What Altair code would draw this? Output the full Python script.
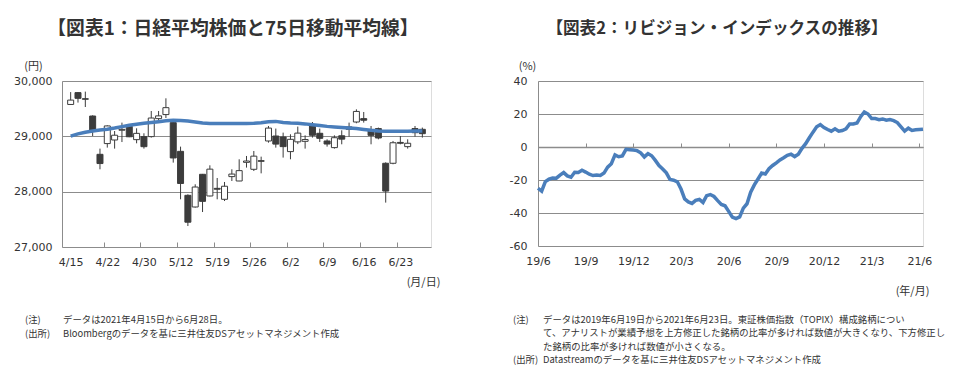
import altair as alt
import numpy as np
import pandas as pd

# ---------------- text ----------------
TITLE_L = "【図表1：日経平均株価と75日移動平均線】"
TITLE_R = "【図表2：リビジョン・インデックスの推移】"
UNIT_Y_L = "(円)"
UNIT_X_L = "(月/日)"
UNIT_Y_R = "(%)"
UNIT_X_R = "(年/月)"
NOTE_HEAD_L = ["(注)", "(出所)"]
NOTE_BODY_L = ["データは2021年4月15日から6月28日。",
               "Bloombergのデータを基に三井住友DSアセットマネジメント作成"]
NOTE_HEAD_R = ["(注)", "", "", "(出所)"]
NOTE_BODY_R = ["データは2019年6月19日から2021年6月23日。東証株価指数（TOPIX）構成銘柄につい",
               "て、アナリストが業績予想を上方修正した銘柄の比率が多ければ数値が大きくなり、下方修正し",
               "た銘柄の比率が多ければ数値が小さくなる。",
               "Datastreamのデータを基に三井住友DSアセットマネジメント作成"]

# ---------------- left chart data (Nikkei 225, daily) ----------------
DATES_L = ["4/15", "4/16", "4/19", "4/20", "4/21", "4/22", "4/23", "4/26", "4/27", "4/28", "4/30",
           "5/6", "5/7", "5/10", "5/11", "5/12", "5/13", "5/14", "5/17", "5/18", "5/19", "5/20", "5/21",
           "5/24", "5/25", "5/26", "5/27", "5/28", "5/31",
           "6/1", "6/2", "6/3", "6/4", "6/7", "6/8", "6/9", "6/10", "6/11", "6/14", "6/15", "6/16",
           "6/17", "6/18", "6/21", "6/22", "6/23", "6/24", "6/25", "6/28"]
OPEN = [29576, 29790, 29680, 29367, 28675, 28869, 28934, 29110, 29180, 28940, 28995,
        28995, 29320, 29393, 29248, 28729, 27934, 27723, 28314, 27922, 28060, 27862, 28272,
        28193, 28530, 28404, 28560, 28916, 29006,
        28988, 28724, 28900, 28910, 29187, 29055, 28916, 28796, 29010, 29127, 29259, 29320,
        29096, 29140, 28513, 28513, 28890, 28814, 29140, 29127]
HIGH = [29800, 29800, 29808, 29380, 28778, 29199, 29096, 29248, 29210, 29145, 29055,
        29458, 29458, 29687, 29277, 28814, 27952, 28133, 28320, 28476, 28247, 28175, 28404,
        28585, 28645, 28735, 28633, 29187, 29140,
        29067, 29037, 29176, 29018, 29259, 29140, 28946, 29018, 29109, 29248, 29488, 29440,
        29187, 29158, 28530, 28916, 29006, 28946, 29187, 29158]
LOW = [29570, 29610, 29530, 29006, 28404, 28796, 28778, 28897, 28985, 28874, 28778,
       28977, 29277, 29331, 28525, 27862, 27379, 27712, 27632, 27915, 27862, 27831, 28193,
       28190, 28435, 28373, 28331, 28886, 28796,
       28616, 28585, 28860, 28778, 28977, 28898, 28814, 28778, 28856, 28995, 29236, 29248,
       28856, 28946, 27802, 28495, 28856, 28778, 28995, 28977]
CLOSE = [29655, 29687, 29670, 29100, 28508, 29188, 29020, 29126, 28992, 29054, 28813,
         29331, 29370, 29518, 28609, 28148, 27448, 28084, 27825, 28407, 28044, 28098, 28318,
         28380, 28554, 28642, 28549, 29149, 28860,
         28814, 28946, 29058, 28942, 29019, 28964, 28861, 28975, 28949, 29170, 29450, 29291,
         29018, 28970, 28011, 28884, 28875, 28875, 29066, 29048]
MA75 = [29005, 29045, 29075, 29095, 29115, 29130, 29150, 29175, 29200, 29220, 29235,
        29250, 29265, 29280, 29290, 29285, 29275, 29260, 29240, 29232, 29230, 29230, 29230,
        29230, 29230, 29235, 29245, 29265, 29270,
        29250, 29240, 29235, 29225, 29210, 29195, 29180, 29170, 29160, 29150, 29140, 29125,
        29110, 29098, 29092, 29090, 29090, 29092, 29095, 29095]
X_LABELS_L = ["4/15", "4/22", "4/30", "5/12", "5/19", "5/26", "6/2", "6/9", "6/16", "6/23"]
Y_TICKS_L = [27000, 28000, 29000, 30000]

# ---------------- right chart data (revision index, weekly) ----------------
START_R = "2019-06-19"
REV = [-25.0, -26.8, -21.0, -19.5, -18.8, -18.9, -17.0, -15.5, -17.5, -18.3,
       -15.3, -15.5, -14.1, -15.2, -16.5, -17.3, -17.0, -17.3, -15.8, -12.2,
       -10.1, -4.8, -5.9, -5.4, -1.4, -1.6, -1.8, -2.2, -3.5, -6.0,
       -4.0, -5.3, -8.1, -11.2, -13.3, -15.7, -19.7, -20.1, -21.1, -25.5,
       -31.5, -33.3, -34.2, -32.3, -31.8, -33.6, -29.5, -28.8, -30.0, -32.5,
       -34.8, -35.6, -39.0, -42.5, -43.4, -42.4, -37.0, -34.4, -27.4, -23.0,
       -19.4, -15.8, -16.4, -13.2, -11.2, -9.6, -7.8, -6.5, -5.0, -4.4,
       -5.8, -4.4, -0.8, 2.0, 5.6, 9.0, 12.2, 13.6, 11.8, 10.6,
       9.6, 11.0, 9.6, 10.0, 11.0, 14.0, 14.0, 14.5, 18.4, 21.2,
       20.0, 17.2, 17.2, 16.6, 17.0, 16.2, 16.6, 16.0, 14.8, 12.2,
       9.6, 11.4, 10.0, 10.4, 10.6, 10.8]
X_LABELS_R = ["19/6", "19/9", "19/12", "20/3", "20/6", "20/9", "20/12", "21/3", "21/6"]
X_TICKS_R = [0, 13, 26, 39, 52, 65, 78, 91, 104]
Y_TICKS_R = [-60, -40, -20, 0, 20, 40]

# ---------------- style ----------------
JP_FONT = "Noto Sans CJK JP"
LAB_FONT = "DejaVu Sans"
TXT = "#333333"
GRID = "#8c8c8c"
DARK = "#3c3c3c"
BLUE = "#4a7ebb"
W_L, H_L = 369, 166
W_R, H_R = 385, 165
NOTE_SIZE = 9.4


def text_layer(text, x, y, size, weight="normal", align="left"):
    return alt.Chart(pd.DataFrame({"t": [text]})).mark_text(
        font=JP_FONT, fontSize=size, fontWeight=weight, align=align,
        baseline="middle", color=TXT).encode(
        text="t:N", x=alt.value(x), y=alt.value(y))


def note_layers(heads, bodies, x_head, x_body, y0, lh):
    out = []
    for i, (h, b) in enumerate(zip(heads, bodies)):
        if h:
            out.append(text_layer(h, x_head, y0 + i * lh, NOTE_SIZE))
        out.append(text_layer(b, x_body, y0 + i * lh, NOTE_SIZE))
    return out


# ================= left panel =================
n = len(DATES_L)
df_l = pd.DataFrame({"date": DATES_L, "open": OPEN, "high": HIGH, "low": LOW,
                     "close": CLOSE, "ma": MA75})
df_l["pos"] = np.arange(n) + 0.5
df_l["fill"] = np.where(df_l["close"] >= df_l["open"], "#ffffff", DARK)

label_vals_l = [DATES_L.index(d) + 0.5 for d in X_LABELS_L]
tick_vals_l = [DATES_L.index(d) for d in X_LABELS_L[1:]]
expr_l = "[" + ",".join("'%s'" % s for s in X_LABELS_L) + "][indexof([" + \
    ",".join(str(v) for v in label_vals_l) + "], datum.value)]"

xs_l = alt.Scale(domain=[0, n], nice=False, zero=False)
ys_l = alt.Scale(domain=[Y_TICKS_L[0], Y_TICKS_L[-1]], nice=False, zero=False)

yaxis_l = alt.Axis(values=Y_TICKS_L, format=",.0f", grid=True, gridColor=GRID, gridWidth=1,
                   domain=True, domainColor=GRID, ticks=False, tickSize=0, labelPadding=10,
                   labelFont=LAB_FONT, labelFontSize=11, labelColor=TXT,
                   title=UNIT_Y_L, titleAngle=0, titleX=-29, titleY=-15, titleAlign="center",
                   titleBaseline="middle", titleFont=JP_FONT, titleFontSize=11,
                   titleFontWeight="normal", titleColor=TXT)
xaxis_l_bottom = alt.Axis(orient="bottom", values=label_vals_l, labelExpr=expr_l,
                          labelFlush=False, labelOverlap=False, ticks=False, tickSize=0,
                          domain=False, grid=False, labelPadding=9, labelFont=LAB_FONT,
                          labelFontSize=11, labelColor=TXT,
                          title=UNIT_X_L, titleX=361, titleY=35, titleAngle=0,
                          titleAlign="center", titleBaseline="middle", titleFont=JP_FONT,
                          titleFontSize=11, titleFontWeight="normal", titleColor=TXT)
xaxis_l_top = alt.Axis(orient="top", offset=-H_L, values=tick_vals_l, labels=False,
                       ticks=True, tickSize=5, tickColor=GRID, tickWidth=1, domain=False,
                       grid=False, title=None)

base_l = alt.Chart(df_l)
wick = base_l.mark_rule(color=DARK, strokeWidth=1).encode(
    x=alt.X("pos:Q", scale=xs_l, axis=xaxis_l_bottom),
    y=alt.Y("low:Q", scale=ys_l, axis=yaxis_l),
    y2="high:Q")
body = base_l.mark_bar(size=6, stroke=DARK, strokeWidth=1).encode(
    x=alt.X("pos:Q", scale=xs_l, axis=xaxis_l_top),
    y=alt.Y("open:Q", scale=ys_l, axis=yaxis_l),
    y2="close:Q",
    fill=alt.Fill("fill:N", scale=None))
ma = base_l.mark_line(color=BLUE, strokeWidth=3.5).encode(
    x=alt.X("pos:Q", scale=xs_l, axis=None),
    y=alt.Y("ma:Q", scale=ys_l, axis=yaxis_l))

left = alt.layer(
    wick, body, ma,
    text_layer(TITLE_L, 171, -52, 18.8, weight="bold", align="center"),
    *note_layers(NOTE_HEAD_L, NOTE_BODY_L, -37, 1, 239, 14),
).resolve_axis(x="independent").properties(width=W_L, height=H_L)

# ================= right panel =================
dates_r = pd.date_range(START_R, periods=len(REV), freq="7D")
df_r = pd.DataFrame({"date": dates_r, "rev": REV})
df_r["wk"] = (df_r["date"] - df_r["date"].iloc[0]).dt.days / 7.0

expr_r = "[" + ",".join("'%s'" % s for s in X_LABELS_R) + "][indexof([" + \
    ",".join(str(v) for v in X_TICKS_R) + "], datum.value)]"
xs_r = alt.Scale(domain=[0, len(REV) - 1], nice=False, zero=False)
ys_r = alt.Scale(domain=[Y_TICKS_R[0], Y_TICKS_R[-1]], nice=False, zero=False)
zero_frac = (Y_TICKS_R[-1] - 0) / (Y_TICKS_R[-1] - Y_TICKS_R[0])

yaxis_r = alt.Axis(values=Y_TICKS_R, grid=True, gridColor=GRID, gridWidth=1,
                   labelExpr="datum.value < 0 ? '-' + abs(datum.value) : '' + datum.value",
                   domain=True, domainColor=GRID, ticks=False, tickSize=0, labelPadding=11,
                   labelFont=LAB_FONT, labelFontSize=11, labelColor=TXT,
                   title=UNIT_Y_R, titleAngle=0, titleX=-11, titleY=-15, titleAlign="center",
                   titleBaseline="middle", titleFont=JP_FONT, titleFontSize=11,
                   titleFontWeight="normal", titleColor=TXT)
xaxis_r_bottom = alt.Axis(orient="bottom", values=X_TICKS_R, labelExpr=expr_r,
                          labelFlush=False, labelOverlap=False, ticks=False, tickSize=0,
                          domain=False, grid=False, labelPadding=9, labelFont=LAB_FONT,
                          labelFontSize=11, labelColor=TXT,
                          title=UNIT_X_R, titleX=374, titleY=45, titleAngle=0,
                          titleAlign="center", titleBaseline="middle", titleFont=JP_FONT,
                          titleFontSize=11, titleFontWeight="normal", titleColor=TXT)
xaxis_r_top = alt.Axis(orient="top", offset=-round(H_R * zero_frac), values=X_TICKS_R[1:],
                       labels=False, ticks=True, tickSize=4, tickColor=GRID, tickWidth=1,
                       domain=True, domainColor=GRID, domainWidth=1.3, grid=False, title=None)

base_r = alt.Chart(df_r)
zero_axis = base_r.mark_line(strokeOpacity=0).encode(
    x=alt.X("wk:Q", scale=xs_r, axis=xaxis_r_top),
    y=alt.Y("rev:Q", scale=ys_r, axis=yaxis_r))
rev_line = base_r.mark_line(color=BLUE, strokeWidth=3.5).encode(
    x=alt.X("wk:Q", scale=xs_r, axis=xaxis_r_bottom),
    y=alt.Y("rev:Q", scale=ys_r, axis=yaxis_r))

right = alt.layer(
    zero_axis, rev_line,
    text_layer(TITLE_R, 179, -52, 16.6, weight="bold", align="center"),
    *note_layers(NOTE_HEAD_R, NOTE_BODY_R, -25, 5, 239, 13.4),
).resolve_axis(x="independent").properties(width=W_R, height=H_R)

chart = alt.hconcat(left, right, spacing=107, bounds="flush").properties(
    padding={"left": 5, "top": 11, "right": 2, "bottom": 2}
).configure_view(stroke=None).configure(background="white")

chart.save("out.html", embed_options={"renderer": "svg", "actions": False})
